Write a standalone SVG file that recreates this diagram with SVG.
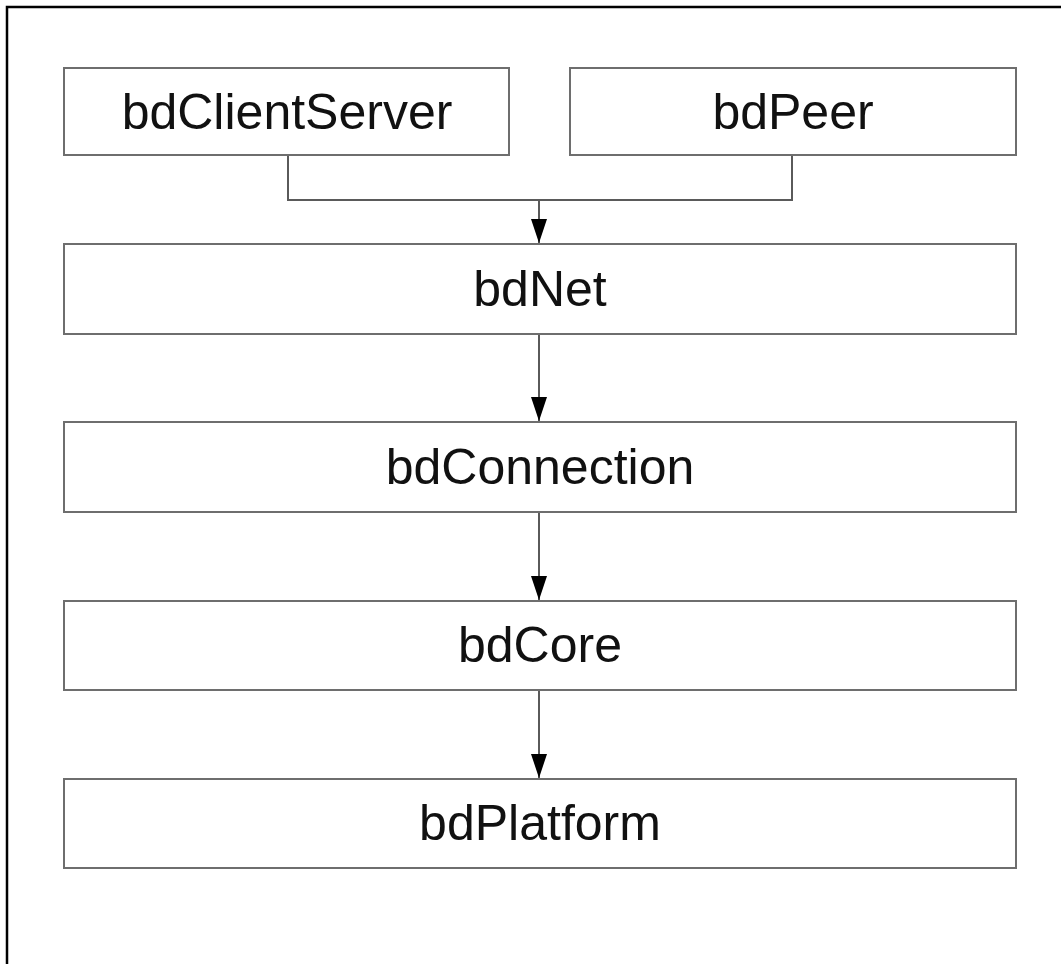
<svg xmlns="http://www.w3.org/2000/svg" width="1061" height="964" viewBox="0 0 1061 964">
  <style>
    .box { fill: #ffffff; stroke: #6e6e6e; stroke-width: 2; }
    .label { font-family: "Liberation Sans", Arial, sans-serif; font-size: 50px; fill: #111111; text-anchor: middle; }
    .wire { fill: none; stroke: #5a5a5a; stroke-width: 2; }
    .frame { fill: none; stroke: #000000; stroke-width: 2.5; }
  </style>
  <defs>
    <marker id="arrow" viewBox="0 0 24 16" refX="24" refY="8" markerWidth="24" markerHeight="16" markerUnits="userSpaceOnUse" orient="auto">
      <path d="M0,0 L24,8 L0,16 Z" fill="#000000"/>
    </marker>
  </defs>

  <rect width="1061" height="964" fill="#ffffff"/>
  <!-- page frame: top and left edges -->
  <path class="frame" d="M7,964 V7 H1061"/>

  <g id="connectors">
    <path class="wire" d="M288,155 V200 H792 V155"/>
    <path class="wire" d="M539,200 V243" marker-end="url(#arrow)"/>
    <path class="wire" d="M539,334 V421" marker-end="url(#arrow)"/>
    <path class="wire" d="M539,512 V600" marker-end="url(#arrow)"/>
    <path class="wire" d="M539,690 V778" marker-end="url(#arrow)"/>
  </g>

  <g id="bdClientServer">
    <rect class="box" x="64" y="68" width="445" height="87"/>
    <text class="label" x="287" y="129">bdClientServer</text>
  </g>
  <g id="bdPeer">
    <rect class="box" x="570" y="68" width="446" height="87"/>
    <text class="label" x="793" y="129">bdPeer</text>
  </g>
  <g id="bdNet">
    <rect class="box" x="64" y="244" width="952" height="90"/>
    <text class="label" x="540" y="306">bdNet</text>
  </g>
  <g id="bdConnection">
    <rect class="box" x="64" y="422" width="952" height="90"/>
    <text class="label" x="540" y="484">bdConnection</text>
  </g>
  <g id="bdCore">
    <rect class="box" x="64" y="601" width="952" height="89"/>
    <text class="label" x="540" y="662">bdCore</text>
  </g>
  <g id="bdPlatform">
    <rect class="box" x="64" y="779" width="952" height="89"/>
    <text class="label" x="540" y="840">bdPlatform</text>
  </g>
</svg>
